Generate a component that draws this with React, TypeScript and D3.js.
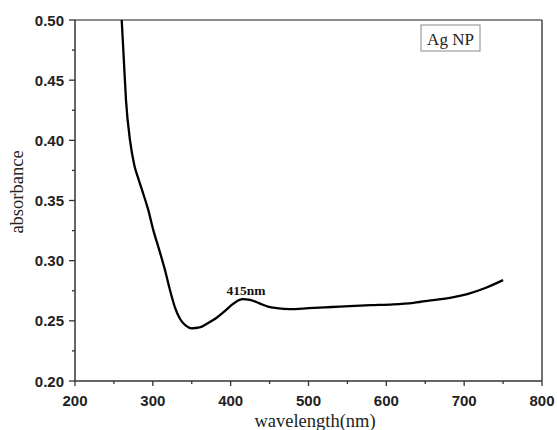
import React from "react";
import * as d3 from "d3";

const wavelength = [260, 262.5, 265.5, 270.7, 276, 282, 288, 294.2, 300.6, 308.3, 315.6, 322, 328.5, 335, 342, 350, 360, 370, 382, 392, 400, 408, 415, 425, 437, 448, 459, 476, 500, 530, 553, 580, 609, 635, 660, 685, 704, 728, 750];
const absorbance = [0.5, 0.47, 0.4335, 0.40, 0.38, 0.367, 0.355, 0.342, 0.3254, 0.3088, 0.2922, 0.2756, 0.261, 0.2515, 0.2462, 0.2438, 0.2445, 0.2478, 0.2526, 0.2578, 0.2625, 0.2663, 0.2681, 0.2675, 0.2645, 0.2618, 0.2606, 0.2598, 0.2605, 0.2615, 0.2623, 0.263, 0.2637, 0.265, 0.2672, 0.2695, 0.2722, 0.2775, 0.2838];
const xTicks = [200, 300, 400, 500, 600, 700, 800];
const xMinor = [250, 350, 450, 550, 650, 750];
const yTicks = [0.2, 0.25, 0.3, 0.35, 0.4, 0.45, 0.5];
const yMinor = [0.225, 0.275, 0.325, 0.375, 0.425, 0.475];
const peakLabel = "415nm";
const legendLabel = "Ag NP";

export default function App() {
  const W = 557, H = 430;
  const x = d3.scaleLinear().domain([200, 800]).range([75, 542]);
  const y = d3.scaleLinear().domain([0.2, 0.5]).range([381, 20]);
  const pts = wavelength.map((w, i) => [w, absorbance[i]] as [number, number]);
  const line = d3.line<[number, number]>().x(d => x(d[0])).y(d => y(d[1])).curve(d3.curveMonotoneX);
  const axisColor = "#333";
  const sans = "'Liberation Sans', Arial, sans-serif";
  const serif = "'Liberation Serif', 'Times New Roman', serif";
  return (
    <svg width={W} height={H} style={{ position: "absolute", left: 0, top: 0, background: "#fff" }}>
      <rect x={0} y={0} width={W} height={H} fill="#fff" />
      <line x1={x(200)} x2={x(800)} y1={y(0.5)} y2={y(0.5)} stroke="#666" strokeWidth={1.5} />
      <line x1={x(800)} x2={x(800)} y1={y(0.5)} y2={y(0.2)} stroke="#444" strokeWidth={1.5} />
      <line x1={x(200)} x2={x(800)} y1={y(0.2)} y2={y(0.2)} stroke={axisColor} strokeWidth={1.5} />
      <line x1={x(200)} x2={x(200)} y1={y(0.5)} y2={y(0.2)} stroke={axisColor} strokeWidth={1.5} />
      {xTicks.map(t => (
        <g key={"xt" + t}>
          <line x1={x(t)} x2={x(t)} y1={y(0.2)} y2={y(0.2) + 5} stroke={axisColor} strokeWidth={1.3} />
          <text x={x(t)} y={406} textAnchor="middle" fontFamily={sans} fontWeight={700} fontSize={15} fill="#222">{t}</text>
        </g>
      ))}
      {xMinor.map(t => (
        <line key={"xm" + t} x1={x(t)} x2={x(t)} y1={y(0.2)} y2={y(0.2) + 3} stroke={axisColor} strokeWidth={1.3} />
      ))}
      {yTicks.map(t => (
        <g key={"yt" + t}>
          <line x1={x(200) - 6} x2={x(200)} y1={y(t)} y2={y(t)} stroke={axisColor} strokeWidth={1.3} />
          <text x={64} y={y(t) + 5.5} textAnchor="end" fontFamily={sans} fontWeight={700} fontSize={15} fill="#222">{t.toFixed(2)}</text>
        </g>
      ))}
      {yMinor.map(t => (
        <line key={"ym" + t} x1={x(200) - 3} x2={x(200)} y1={y(t)} y2={y(t)} stroke={axisColor} strokeWidth={1.3} />
      ))}
      <path d={line(pts) || ""} fill="none" stroke="#000" strokeWidth={2.3} strokeLinejoin="round" />
      <text x={246} y={295} textAnchor="middle" fontFamily={serif} fontWeight={700} fontSize={13.5} fill="#111">{peakLabel}</text>
      <rect x={421} y={25} width={59} height={26} fill="#fff" stroke="#888" strokeWidth={1} />
      <text x={450.5} y={44.5} textAnchor="middle" fontFamily={serif} fontSize={17} fill="#222">{legendLabel}</text>
      <text transform={`translate(23,${192}) rotate(-90)`} textAnchor="middle" fontFamily={serif} fontSize={18.5} fill="#222">absorbance</text>
      <text x={315} y={427} textAnchor="middle" fontFamily={serif} fontSize={18.5} fill="#222">wavelength(nm)</text>
    </svg>
  );
}
